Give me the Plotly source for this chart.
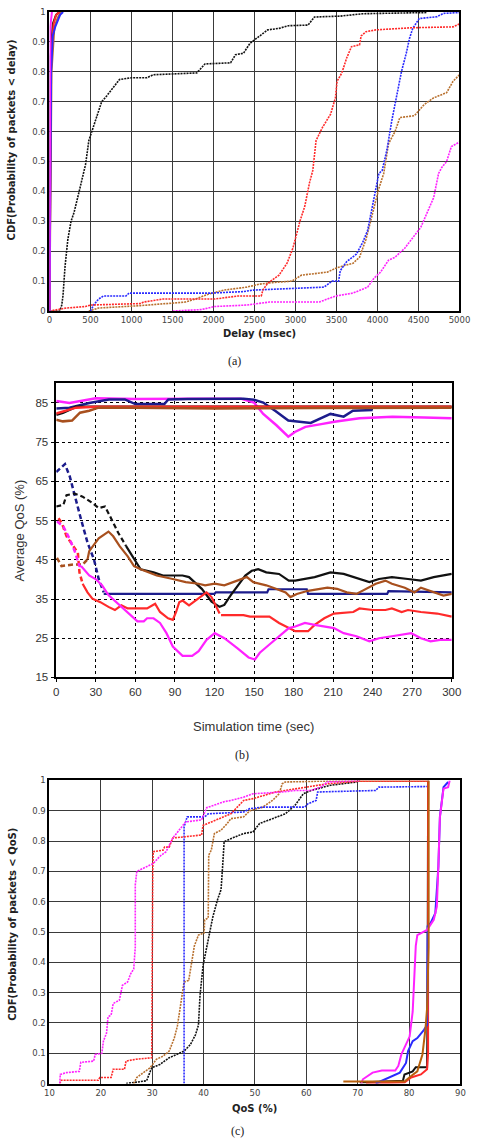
import plotly.graph_objects as go

W, H = 485, 1144

# ---------------- Panel (a): CDF of delay ----------------
a_black_x = [0, 126, 150, 165, 190, 224, 263, 300, 362, 400, 440, 480, 530, 580, 637, 700, 780, 853, 1000, 1187, 1266, 1500, 1796, 1895, 2209, 2268, 2366, 2445, 2563, 2661, 2799, 2917, 3153, 3231, 3546, 3821, 4600]
a_black_y = [0, 0, 0.02, 0.052, 0.15, 0.24, 0.30, 0.33, 0.40, 0.44, 0.49, 0.57, 0.61, 0.65, 0.70, 0.72, 0.75, 0.774, 0.78, 0.78, 0.79, 0.792, 0.796, 0.826, 0.83, 0.857, 0.862, 0.895, 0.92, 0.94, 0.945, 0.954, 0.956, 0.983, 0.986, 0.994, 0.998]

a_red_x = [0, 106, 204, 440, 500, 1108, 1148, 1384, 2013, 2288, 2583, 2602, 2661, 2799, 2897, 2968, 2995, 3054, 3113, 3172, 3211, 3251, 3329, 3428, 3487, 3507, 3565, 3624, 3683, 3781, 3801, 3860, 3978, 4214, 4410, 4921, 5000]
a_red_y = [0, 0.005, 0.01, 0.015, 0.02, 0.025, 0.03, 0.04, 0.04, 0.05, 0.05, 0.07, 0.093, 0.12, 0.16, 0.21, 0.24, 0.30, 0.35, 0.43, 0.47, 0.57, 0.614, 0.658, 0.713, 0.768, 0.796, 0.846, 0.884, 0.89, 0.92, 0.934, 0.94, 0.945, 0.947, 0.95, 0.96]

a_blue_x = [500, 539, 598, 657, 932, 971, 1973, 2366, 2484, 3349, 3447, 3526, 3546, 3624, 3742, 3821, 3880, 3939, 3978, 4017, 4057, 4116, 4174, 4233, 4292, 4351, 4391, 4430, 4509, 4725, 4803, 5000]
a_blue_y = [0, 0.02, 0.04, 0.05, 0.05, 0.06, 0.06, 0.065, 0.07, 0.08, 0.1, 0.1, 0.135, 0.165, 0.19, 0.23, 0.27, 0.35, 0.41, 0.46, 0.47, 0.54, 0.636, 0.724, 0.80, 0.862, 0.912, 0.945, 0.978, 0.984, 0.995, 0.998]

a_brown_x = [480, 598, 1108, 1423, 1659, 1777, 1934, 2130, 2406, 2563, 2720, 2956, 3074, 3388, 3507, 3703, 3781, 3860, 3939, 4017, 4076, 4135, 4214, 4273, 4450, 4568, 4686, 4843, 4921, 5000]
a_brown_y = [0, 0.01, 0.018, 0.025, 0.03, 0.04, 0.056, 0.07, 0.08, 0.09, 0.095, 0.1, 0.12, 0.13, 0.145, 0.16, 0.18, 0.24, 0.33, 0.41, 0.46, 0.56, 0.60, 0.647, 0.653, 0.69, 0.713, 0.73, 0.768, 0.79]

a_magenta_x = [1502, 1855, 2013, 2406, 2681, 3290, 3388, 3487, 3703, 3880, 3958, 4037, 4135, 4214, 4332, 4430, 4528, 4607, 4686, 4745, 4784, 4843, 4901, 5000]
a_magenta_y = [0, 0.005, 0.015, 0.02, 0.03, 0.03, 0.04, 0.05, 0.06, 0.08, 0.11, 0.13, 0.17, 0.18, 0.21, 0.245, 0.28, 0.33, 0.38, 0.46, 0.48, 0.50, 0.55, 0.565]

# near-zero (solid) curves
a_s_black_x = [0, 15, 40, 80, 120]
a_s_black_y = [0, 0.85, 0.96, 0.99, 1.0]
a_s_brown_x = [0, 25, 60, 100, 140]
a_s_brown_y = [0, 0.80, 0.95, 0.98, 1.0]
a_s_red_x = [0, 20, 50, 80, 120]
a_s_red_y = [0, 0.85, 0.96, 0.99, 1.0]
a_s_blue_x = [0, 20, 40, 70, 100, 130, 165]
a_s_blue_y = [0, 0.80, 0.92, 0.95, 0.97, 0.99, 1.0]
a_s_magenta_x = [0, 5, 10, 30]
a_s_magenta_y = [0, 0.5, 0.95, 1.0]

# ---------------- Panel (b): average QoS vs time ----------------
b_top_navy_t = [0, 10, 25, 40, 52, 60, 82, 85, 100, 142, 150, 157, 166, 176, 193, 203, 208, 218, 225, 240]
b_top_navy_v = [83.6, 83.8, 85.0, 85.9, 85.9, 84.7, 84.7, 85.9, 86.0, 86.1, 85.8, 85.1, 83.0, 80.5, 79.9, 81.4, 82.2, 81.5, 83.0, 83.2]
b_top_magenta_t = [0, 10, 30, 60, 100, 140, 150, 157, 167, 176, 181, 189, 201, 211, 230, 255, 279, 300]
b_top_magenta_v = [85.5, 85.0, 86.2, 86.0, 86.1, 86.1, 85.1, 82.2, 79.3, 76.4, 77.6, 78.9, 79.6, 80.2, 81.1, 81.5, 81.3, 81.1]
b_top_black_t = [0, 5, 15, 30, 100, 200, 300]
b_top_black_v = [82.0, 82.5, 84.0, 84.0, 83.9, 83.9, 84.0]
b_top_red_t = [0, 5, 15, 30, 100, 200, 300]
b_top_red_v = [82.3, 82.8, 83.8, 84.0, 84.0, 84.0, 84.0]
b_top_brown_t = [0, 5, 12, 18, 25, 32, 60, 120, 200, 300]
b_top_brown_v = [80.7, 80.3, 80.5, 82.5, 83.0, 83.8, 83.8, 83.6, 83.7, 83.8]

b_navy_dash_t = [0, 6.6, 10.3, 14, 18.8, 23.7, 28.6, 32.2, 36]
b_navy_dash_v = [67.4, 69.4, 66.2, 61.2, 55.3, 49.4, 45.1, 40.1, 36.7]
b_navy_t = [36, 120, 121, 160, 161, 190, 191, 251, 252, 300]
b_navy_v = [36.3, 36.3, 36.7, 36.7, 37.5, 37.5, 36.3, 36.3, 37.0, 36.7]

b_black_dash_t = [0, 5.4, 7.8, 14, 20, 27.4, 32.2, 37, 40.8, 47, 53]
b_black_dash_v = [58.6, 59.0, 61.5, 61.9, 61.1, 59.5, 58.2, 58.6, 56.1, 51.9, 48.5]
b_black_t = [53, 59, 64, 73.8, 81, 95.8, 100.7, 110.4, 117.8, 123.9, 127.5, 132.4, 137.3, 143.4, 148.3, 153.2, 159.3, 169, 176.4, 181.3, 196, 208, 218, 225, 232.6, 237.5, 244.8, 254.6, 266.8, 276.6, 286.3, 300]
b_black_v = [48.5, 45.1, 42.6, 41.8, 41.0, 41.0, 40.6, 37.6, 34.3, 33.0, 33.5, 36.0, 38.1, 41.0, 42.2, 42.6, 41.8, 41.4, 39.7, 39.7, 40.6, 41.8, 41.4, 40.6, 39.7, 39.3, 40.1, 40.6, 40.1, 39.7, 40.6, 41.4]

b_brown_dash_t = [0.5, 4, 12.7, 20, 23.7]
b_brown_dash_v = [45.5, 43.4, 43.8, 43.8, 45.1]
b_brown_t = [23.7, 25, 32.2, 39.6, 43.2, 48.1, 54.2, 59, 64, 76.2, 88.4, 98.2, 108, 112.9, 120.2, 127.5, 137.3, 144.6, 149.5, 159.3, 166.6, 174, 177.6, 182.5, 191, 205.7, 213, 220.4, 227.7, 232.6, 242.4, 249.7, 254.6, 264.4, 271.7, 276.6, 286.3, 293.7, 300]
b_brown_v = [45.1, 47.2, 50.5, 52.2, 51.0, 48.5, 45.9, 43.4, 42.6, 41.0, 40.1, 39.3, 38.9, 38.5, 38.9, 38.5, 39.7, 40.6, 39.3, 38.5, 37.6, 36.7, 35.5, 36.3, 37.1, 37.9, 37.6, 36.7, 36.3, 37.1, 38.9, 39.7, 38.9, 37.9, 36.7, 37.9, 36.7, 35.9, 36.3]

b_red_dash_t = [1.7, 4.2, 7.8, 12.7, 16.4, 17.6, 20]
b_red_dash_v = [55.6, 54.4, 51.0, 48.5, 46.8, 41.8, 38.9]
b_red_t = [20, 23.7, 27.4, 33.5, 39.6, 44.5, 49.4, 54.2, 68.9, 75, 78.7, 84.8, 88.4, 90.9, 93.3, 95.8, 100.7, 105.5, 110.4, 114, 117.8, 121.4, 123.9]
b_red_v = [38.9, 36.7, 35.1, 34.2, 33.0, 32.2, 33.4, 32.6, 32.6, 33.8, 31.7, 30.1, 29.7, 31.7, 34.2, 34.6, 33.4, 34.6, 35.9, 36.7, 35.5, 33.0, 31.3]
b_red2_t = [125, 142, 147, 161.7, 169, 176.4, 181.3, 191, 196, 203.3, 210.6, 225.3, 230, 240, 249.7, 254.6, 262, 266.8, 276.6, 288.9, 300]
b_red2_v = [30.9, 30.9, 30.5, 30.5, 28.9, 27.6, 26.8, 26.8, 28.4, 30.1, 31.3, 31.7, 32.6, 32.2, 32.2, 32.6, 31.7, 32.2, 31.7, 31.3, 30.5]

b_magenta_dash_t = [0.5, 5.4, 10.3, 14, 17.6, 18.8]
b_magenta_dash_v = [54.8, 53.5, 50.2, 47.2, 43.4, 43.4]
b_magenta_t = [18.8, 25, 29.8, 34.7, 39.6, 46.9, 54.2, 61.6, 66.4, 68.9, 73.8, 78.7, 83.6, 88.4, 95.8, 103.1, 108, 114, 120.2, 127.5, 137.3, 145.9, 150.7, 154.4, 161.7, 169, 176.4, 181.3, 188.6, 196, 203.3, 210.6, 218, 227.7, 237.5, 244.8, 254.6, 262, 269.2, 276.6, 283.9, 291.2, 300]
b_magenta_v = [43.4, 41.0, 40.1, 38.5, 36.0, 33.8, 31.7, 29.3, 29.3, 30.1, 30.1, 28.9, 26.3, 22.9, 20.5, 20.5, 21.7, 24.6, 26.3, 25.0, 22.5, 20.1, 19.6, 21.3, 23.4, 25.5, 27.6, 28.0, 28.9, 28.4, 28.0, 27.6, 26.3, 25.5, 24.2, 25.0, 25.5, 25.9, 26.3, 25.0, 24.2, 24.6, 24.6]

b_xticks = [0, 30, 60, 90, 120, 150, 180, 210, 240, 270, 300]
b_yticks = [15, 25, 35, 45, 55, 65, 75, 85]

# ---------------- Panel (c): CDF of QoS ----------------
c_magenta_dot_x = [12, 12.1, 13.3, 15.8, 16.1, 18.6, 18.9, 20.2, 20.5, 21.1, 21.4, 22, 22.4, 23.6, 24.2, 25.2, 25.8, 26.4, 26.7, 26.7, 27, 28.9, 30.2, 31.5, 32.7, 34, 35.5, 36.5, 39.6, 40.6, 44, 45.3, 47.8, 49.6, 55.3, 57.8, 60.9, 62.8, 64.1, 70.4]
c_magenta_dot_y = [0, 0.03, 0.036, 0.04, 0.07, 0.074, 0.096, 0.1, 0.14, 0.166, 0.22, 0.226, 0.264, 0.275, 0.324, 0.335, 0.362, 0.378, 0.45, 0.655, 0.70, 0.716, 0.726, 0.75, 0.765, 0.81, 0.84, 0.863, 0.87, 0.91, 0.93, 0.934, 0.945, 0.956, 0.962, 0.967, 0.967, 0.978, 0.995, 1.0]
c_red_dot_x = [12, 12.3, 19.5, 19.8, 22, 22.4, 24.6, 24.9, 26.8, 29.9, 30.1, 30.2, 32.1, 32.4, 33.3, 34, 39.6, 39.9, 41.5, 45.3, 47.8, 49.6, 54, 57.8, 64.1, 70.4, 83.5]
c_red_dot_y = [0, 0.011, 0.011, 0.02, 0.02, 0.047, 0.047, 0.074, 0.08, 0.085, 0.705, 0.765, 0.77, 0.78, 0.78, 0.81, 0.82, 0.852, 0.863, 0.89, 0.934, 0.94, 0.962, 0.973, 0.989, 0.998, 0.998]
c_blue_dot_x = [36.2, 36.2, 36.8, 40.2, 40.9, 47.8, 49, 51.5, 59.7, 60.3, 61.9, 62.2, 73.5, 74.1, 83.5]
c_blue_dot_y = [0, 0.847, 0.88, 0.88, 0.89, 0.896, 0.907, 0.912, 0.912, 0.923, 0.934, 0.962, 0.967, 0.978, 0.98]
c_brown_dot_x = [26.4, 27, 28.3, 29.6, 30.8, 32.1, 33.3, 34.3, 34.9, 35.5, 36.2, 37.1, 37.7, 38.2, 39, 40.1, 40.2, 40.9, 41, 41.5, 42.1, 43.4, 44.6, 45.3, 47.8, 49, 51.5, 53.4, 54.7, 55.3, 55.9, 64.1, 83.5]
c_brown_dot_y = [0, 0.02, 0.036, 0.052, 0.08, 0.09, 0.107, 0.15, 0.19, 0.253, 0.335, 0.34, 0.40, 0.454, 0.49, 0.497, 0.54, 0.546, 0.754, 0.77, 0.825, 0.836, 0.858, 0.874, 0.88, 0.90, 0.912, 0.934, 0.956, 0.989, 0.995, 0.998, 0.998]
c_black_dot_x = [24.9, 28.9, 29.9, 31.5, 33.3, 35.2, 36.2, 37.4, 38.4, 39, 39.3, 39.9, 40.6, 41.2, 41.8, 42.7, 43.4, 43.7, 44, 45.3, 47.8, 49.6, 50.9, 53.4, 55.9, 57.8, 59.4, 60.9, 64.7, 69.7, 70.4]
c_black_dot_y = [0, 0.009, 0.052, 0.063, 0.085, 0.1, 0.107, 0.128, 0.16, 0.193, 0.29, 0.39, 0.454, 0.497, 0.55, 0.606, 0.64, 0.716, 0.798, 0.808, 0.825, 0.83, 0.858, 0.874, 0.89, 0.918, 0.956, 0.967, 0.984, 0.995, 1.0]

c_magenta_x = [70.7, 71, 72.9, 74.7, 77.3, 77.9, 78.5, 79.4, 80.1, 80.7, 81.3, 81.6, 82.9, 83.5, 84.8, 85.4, 85.7, 86, 86.7, 87.6, 87.9]
c_magenta_y = [0, 0.014, 0.036, 0.043, 0.043, 0.058, 0.096, 0.128, 0.155, 0.237, 0.454, 0.49, 0.50, 0.507, 0.54, 0.584, 0.716, 0.88, 0.973, 0.978, 1.0]
c_blue_x = [73.5, 75.4, 76.6, 78.2, 79.4, 79.8, 80.7, 81.6, 82.9, 83.5, 83.6, 84.2, 85.1, 85.7, 86, 86.7, 87.6]
c_blue_y = [0, 0.014, 0.025, 0.036, 0.068, 0.107, 0.14, 0.15, 0.177, 0.193, 0.519, 0.53, 0.562, 0.716, 0.88, 0.978, 0.995]
c_black_x = [70.4, 78.8, 79.1, 80.7, 81.3, 83.5, 83.6, 83.7]
c_black_y = [0.003, 0.009, 0.03, 0.04, 0.054, 0.054, 0.248, 1.0]
c_red_x = [71.6, 79.1, 80.4, 82.3, 83.5, 83.7, 83.7]
c_red_y = [0, 0.003, 0.02, 0.03, 0.047, 0.1, 1.0]
c_brown_x = [67.2, 79.1, 80.4, 81.6, 82.6, 83.2, 83.5, 83.8, 83.8]
c_brown_y = [0.007, 0.007, 0.025, 0.04, 0.096, 0.183, 0.248, 0.45, 1.0]

# ---------------- colours ----------------
C_BLACK = "#111111"
C_RED = "#ff2a2a"
C_BLUE = "#2a2aff"
C_BROWN = "#b8702e"
C_BROWN_S = "#b8600c"
C_MAGENTA = "#ff22ff"
C_NAVY = "#1c1c8c"
C_SIENNA = "#a8501e"

DOT = "2px,1px"

fig = go.Figure()

def add(x, y, color, width, dash, xa, ya):
    fig.add_trace(go.Scatter(x=x, y=y, mode="lines", xaxis=xa, yaxis=ya,
                             line=dict(color=color, width=width, dash=dash),
                             showlegend=False, hoverinfo="skip"))

# panel (a)
for xs, ys, c in [(a_black_x, a_black_y, C_BLACK), (a_brown_x, a_brown_y, C_BROWN),
                  (a_blue_x, a_blue_y, C_BLUE), (a_red_x, a_red_y, C_RED),
                  (a_magenta_x, a_magenta_y, C_MAGENTA)]:
    add(xs, ys, c, 1.6, DOT, "x", "y")
for xs, ys, c in [(a_s_black_x, a_s_black_y, C_BLACK), (a_s_brown_x, a_s_brown_y, C_BROWN),
                  (a_s_red_x, a_s_red_y, C_RED), (a_s_blue_x, a_s_blue_y, C_BLUE),
                  (a_s_magenta_x, a_s_magenta_y, C_MAGENTA)]:
    add(xs, ys, c, 2, "solid", "x", "y")

# panel (b)
BD = "5px,3px"
add(b_navy_dash_t, b_navy_dash_v, C_NAVY, 2.5, BD, "x2", "y2")
add(b_navy_t, b_navy_v, C_NAVY, 2.2, "solid", "x2", "y2")
add(b_black_dash_t, b_black_dash_v, C_BLACK, 2.2, BD, "x2", "y2")
add(b_black_t, b_black_v, C_BLACK, 2.2, "solid", "x2", "y2")
add(b_brown_dash_t, b_brown_dash_v, C_SIENNA, 2.5, BD, "x2", "y2")
add(b_brown_t, b_brown_v, C_SIENNA, 2.2, "solid", "x2", "y2")
add(b_red_dash_t, b_red_dash_v, C_RED, 2.5, BD, "x2", "y2")
add(b_red_t, b_red_v, C_RED, 2.2, "solid", "x2", "y2")
add(b_red2_t, b_red2_v, C_RED, 2.2, "solid", "x2", "y2")
add(b_magenta_dash_t, b_magenta_dash_v, C_MAGENTA, 2.5, BD, "x2", "y2")
add(b_magenta_t, b_magenta_v, C_MAGENTA, 2.2, "solid", "x2", "y2")
add(b_top_magenta_t, b_top_magenta_v, C_MAGENTA, 2.5, "solid", "x2", "y2")
add(b_top_navy_t, b_top_navy_v, C_NAVY, 2.5, "solid", "x2", "y2")
add(b_top_black_t, b_top_black_v, C_BLACK, 2.5, "solid", "x2", "y2")
add(b_top_red_t, b_top_red_v, C_RED, 2.5, "solid", "x2", "y2")
add(b_top_brown_t, b_top_brown_v, C_SIENNA, 2.5, "solid", "x2", "y2")

# panel (c)
for xs, ys, c in [(c_black_dot_x, c_black_dot_y, C_BLACK), (c_brown_dot_x, c_brown_dot_y, C_BROWN),
                  (c_blue_dot_x, c_blue_dot_y, C_BLUE), (c_red_dot_x, c_red_dot_y, C_RED),
                  (c_magenta_dot_x, c_magenta_dot_y, C_MAGENTA)]:
    add(xs, ys, c, 1.6, DOT, "x3", "y3")
for xs, ys, c in [(c_black_x, c_black_y, C_BLACK), (c_red_x, c_red_y, C_RED),
                  (c_blue_x, c_blue_y, C_BLUE), (c_magenta_x, c_magenta_y, C_MAGENTA),
                  (c_brown_x, c_brown_y, C_BROWN_S)]:
    add(xs, ys, c, 2, "solid", "x3", "y3")

def py(px):
    return 1 - px / H

def pxx(px):
    return px / W

def pxd(a, b):
    return [pxx(a), pxx(b)]

tick_a = dict(family="DejaVu Sans", size=8.5, color="#444")
grid_a = dict(showgrid=True, gridcolor="#3a3a3a", gridwidth=1.4, zeroline=False,
              showline=True, linecolor="black", linewidth=2, mirror=True,
              ticks="", tickfont=tick_a)
tick_b = dict(family="Liberation Sans", size=11.5, color="#333")

fig.update_layout(
    width=W, height=H, margin=dict(l=0, r=0, t=0, b=0),
    paper_bgcolor="white", plot_bgcolor="white",
    xaxis=dict(domain=pxd(46, 470), anchor="y", range=[0, 5000], dtick=500,
               tickformat="d", **grid_a),
    yaxis=dict(domain=[py(309), py(7)], anchor="x", range=[0, 1], dtick=0.1, **grid_a),
    xaxis2=dict(domain=pxd(53, 462), anchor="y2", range=[0, 300], tickvals=b_xticks,
                showgrid=True, gridcolor="black", gridwidth=1, griddash="dot", zeroline=False,
                showline=True, linecolor="black", linewidth=1.5, mirror=True,
                ticks="outside", ticklen=3, tickcolor="black", tickfont=tick_b),
    yaxis2=dict(domain=[py(679), py(382)], anchor="x2", range=[15, 90], tickvals=b_yticks,
                showgrid=True, gridcolor="black", gridwidth=1, griddash="dot", zeroline=False,
                showline=True, linecolor="black", linewidth=1.5, mirror=True,
                ticks="outside", ticklen=4, tickcolor="black", tickfont=tick_b),
    xaxis3=dict(domain=pxd(46, 471), anchor="y3", range=[10, 90], dtick=10, **grid_a),
    yaxis3=dict(domain=[py(1089), py(783)], anchor="x3", range=[0, 1], dtick=0.1, **grid_a),
)

title_bold = dict(family="DejaVu Sans", size=10, color="#222")
cap = dict(family="Liberation Serif", size=12, color="#222")
title_b = dict(family="Liberation Sans", size=13, color="#333")
ann = [
    dict(text="<b>Delay (msec)</b>", x=pxx(263), y=py(332), font=title_bold),
    dict(text="<b>CDF(Probability of packets &lt; delay)</b>", x=pxx(7), y=py(136), font=title_bold, textangle=-90),
    dict(text="(a)", x=pxx(237), y=py(359), font=cap),
    dict(text="Simulation time (sec)", x=pxx(257), y=py(729), font=title_b),
    dict(text="Average QoS (%)", x=pxx(15), y=py(531), font=title_b, textangle=-90),
    dict(text="(b)", x=pxx(245), y=py(757), font=cap),
    dict(text="<b>QoS (%)</b>", x=pxx(258), y=py(1114), font=title_bold),
    dict(text="<b>CDF(Probability of packets &lt; QoS)</b>", x=pxx(7), y=py(928), font=title_bold, textangle=-90),
    dict(text="(c)", x=pxx(240), y=py(1137), font=cap),
]
for a in ann:
    a.update(xref="paper", yref="paper", showarrow=False, xanchor="center", yanchor="middle")
fig.update_layout(annotations=ann)

fig.write_html("out.html")
